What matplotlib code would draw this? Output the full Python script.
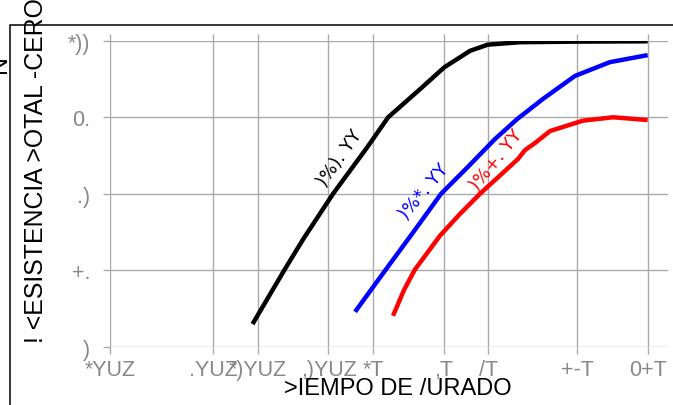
import matplotlib
matplotlib.use("Agg")
import matplotlib.pyplot as plt
from matplotlib.patches import Rectangle

# cure time (minutes) vs total resistance (%)
black_t = [9.2, 15.0, 20.3, 32.2, 55.8, 76, 125, 182, 272, 358, 592, 1440, 4320]
black_r = [7.5, 24.9, 35.3, 50, 65.7, 75, 84.2, 91.3, 96.7, 98.7, 99.5, 99.7, 99.8]

blue_t = [45.4, 72.3, 112, 173, 263, 401, 566, 847, 1393, 2400, 4320]
blue_r = [11.5, 24.9, 37.4, 50, 58.8, 67.9, 74.4, 81, 88.5, 93, 95.3]

red_t = [82, 97, 115, 170, 232, 317, 469, 574, 640, 748, 944, 1578, 2518, 4320]
red_r = [10.2, 18.5, 25.2, 36.3, 43.4, 50, 57.5, 61.4, 64.3, 66.6, 70.5, 73.9, 75.0, 74.1]

xticks = [1, 5, 10, 30, 60, 180, 360, 1440, 4320]
xlabels = ["*YUZ", ".YUZ", "*)YUZ", ",)YUZ", "*T", ",T", "/T", "+-T", "0+T"]
yticks = [0, 25, 50, 75, 100]
ylabels = [")", "+.", ".)", "0.", "*))"]

curve_names = [")%). YY", ")%*. YY", ")%+. YY"]

W, H = 673, 406
fig = plt.figure(figsize=(W / 100, H / 100), dpi=100)
ax = fig.add_axes([110 / W, 1 - 348 / H, 558 / W, 306.3 / H])

ax.plot(black_t, black_r, color="black", lw=3.2, solid_capstyle="butt", solid_joinstyle="round")
ax.plot(blue_t, blue_r, color="blue", lw=3.2, solid_capstyle="butt", solid_joinstyle="round")
ax.plot(red_t, red_r, color="red", lw=3.2, solid_capstyle="butt", solid_joinstyle="round")

ax.set_xscale("log")
ax.set_xlim(1, 5928)
ax.set_ylim(0, 100)
ax.set_xticks(xticks)
ax.set_xticklabels(xlabels)
ax.minorticks_off()
ax.set_yticks(yticks)
ax.set_yticklabels(ylabels)
for s in ax.spines.values():
    s.set_visible(False)
ax.grid(True, color="#aaaaaa", lw=1)
ax.set_axisbelow(True)
ax.tick_params(axis="both", direction="out", length=5.3, color="#aaaaaa", width=1,
               labelcolor="#888888", labelsize=15.5)
ax.tick_params(axis="x", top=True, pad=3)
ax.tick_params(axis="y", pad=9)
for lab in ax.get_xticklabels() + ax.get_yticklabels():
    lab.set_family("Liberation Sans")

# curve labels
ax.text(35.9, 61.7, curve_names[0], color="black", rotation=55, fontsize=13,
        ha="center", va="center", family="DejaVu Sans")
ax.text(133, 50.8, curve_names[1], color="blue", rotation=50, fontsize=13,
        ha="center", va="center", family="DejaVu Sans")
ax.text(407, 61.4, curve_names[2], color="red", rotation=51, fontsize=13,
        ha="center", va="center", family="DejaVu Sans")

# axis titles
fig.text(397.5 / W, 1 - 389 / H, ">IEMPO DE /URADO", fontsize=17, ha="center",
         va="center", family="Liberation Sans")
fig.text(36 / W, 1 - 170.5 / H, "! <ESISTENCIA >OTAL -CERO", fontsize=17.9, rotation=90,
         ha="center", va="center", family="Liberation Sans")
fig.text(-0.5 / W, 1 - 64.5 / H, "N", fontsize=17.9, rotation=90,
         ha="center", va="center", family="Liberation Sans")

# outer frame (partly cut off)
fig.patches.append(Rectangle((9.5 / W, -0.1), 1.2, 1 - 26 / H + 0.1, transform=fig.transFigure,
                             fill=False, ec="black", lw=1.1, figure=fig))

fig.savefig("out.png", dpi=100)
